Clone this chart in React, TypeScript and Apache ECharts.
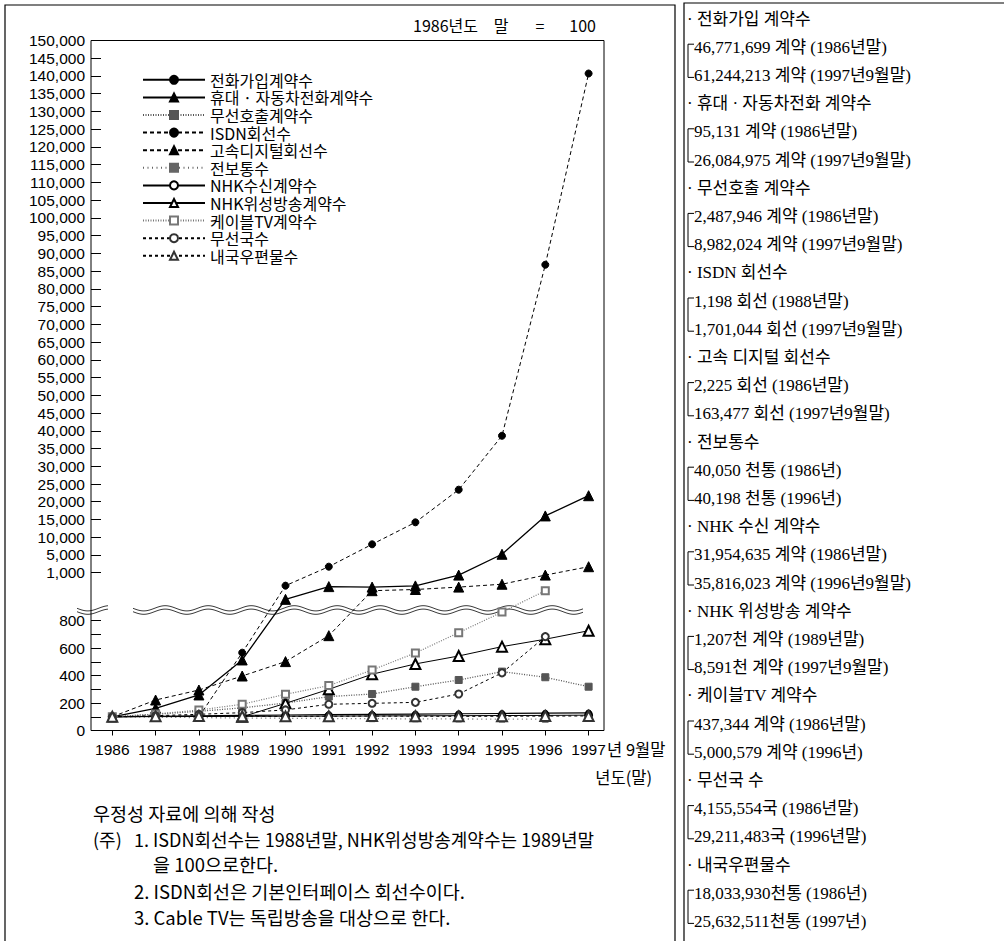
import React, { useEffect, useRef } from "react";
import * as echarts from "echarts";

// ---------------- data ----------------
const years = ["1986", "1987", "1988", "1989", "1990", "1991", "1992", "1993", "1994", "1995", "1996", "1997"];

// upper (compressed) part of the broken axis
const upperTicks = [1000, 5000, 10000, 15000, 20000, 25000, 30000, 35000, 40000, 45000, 50000, 55000, 60000, 65000, 70000, 75000, 80000, 85000, 90000, 95000, 100000, 105000, 110000, 115000, 120000, 125000, 130000, 135000, 140000, 145000, 150000];
// lower part of the broken axis
const lowerTicks = [0, 100, 200, 300, 400, 500, 600, 700, 800];
const lowerLabelTicks = [0, 200, 400, 600, 800];

const phone = [100, 104, 107, 110, 113, 116, 118, 120, 122, 124, 126, 128];
const mobile = [100, 162, 259, 514, 889, 942, 940, 945, 990, 5200, 16000, 21700];
const pager = [100, 118, 140, 165, 200, 247, 266, 319, 368, 429, 388, 319];
const isdn = [null, null, 100, 567, 946, 2360, 8000, 14200, 23400, 38600, 86800, 140700];
const digital = [100, 222, 295, 397, 502, 691, 925, 930, 940, 952, 990, 2350];
const telegram = [100, 97, 94, 91, 89, 87, 86, 85, 84, 83, 82, null];
const nhk = [100, 101, 102, 103, 104, 105, 106, 107, 108, 109, 110, 112];
const nhkBs = [null, null, null, 100, 198, 300, 410, 485, 543, 611, 665, 727];
const cable = [100, 120, 149, 191, 264, 327, 441, 565, 713, 836, 925, null];
const radio = [100, 108, 118, 130, 150, 191, 198, 205, 266, 420, 684, null];
const mail = [100, 103, 105, 104, 103, 104, 105, 104, 103, 104, 105, 106];

const legendNames = [
  "전화가입계약수",
  "휴대 · 자동차전화계약수",
  "무선호출계약수",
  "ISDN회선수",
  "고속디지털회선수",
  "전보통수",
  "NHK수신계약수",
  "NHK위성방송계약수",
  "케이블TV계약수",
  "무선국수",
  "내국우편물수",
];

const panelItems = [
  ["전화가입 계약수", "46,771,699 계약 (1986년말)", "61,244,213 계약 (1997년9월말)"],
  ["휴대 · 자동차전화 계약수", "95,131 계약 (1986년말)", "26,084,975 계약 (1997년9월말)"],
  ["무선호출 계약수", "2,487,946 계약 (1986년말)", "8,982,024 계약 (1997년9월말)"],
  ["ISDN 회선수", "1,198 회선 (1988년말)", "1,701,044 회선 (1997년9월말)"],
  ["고속 디지털 회선수", "2,225 회선 (1986년말)", "163,477 회선 (1997년9월말)"],
  ["전보통수", "40,050 천통 (1986년)", "40,198 천통 (1996년)"],
  ["NHK 수신 계약수", "31,954,635 계약 (1986년말)", "35,816,023 계약 (1996년9월말)"],
  ["NHK 위성방송 계약수", "1,207천 계약 (1989년말)", "8,591천 계약 (1997년9월말)"],
  ["케이블TV 계약수", "437,344 계약 (1986년말)", "5,000,579 계약 (1996년)"],
  ["무선국 수", "4,155,554국 (1986년말)", "29,211,483국 (1996년말)"],
  ["내국우편물수", "18,033,930천통 (1986년)", "25,632,511천통 (1997년)"],
];

// ---------------- layout ----------------
const W = 1004;
const H = 941;
const FRAME_L = 91;
const FRAME_R = 604;
const TOP = 40.5;
const ONE_K_Y = 572.7;
const LOWER_TOP_Y = 620.7;
const ZERO_Y = 730.5;
const STEP = (ONE_K_Y - TOP) / (upperTicks.length - 1);
const LOWER_H = ZERO_Y - LOWER_TOP_Y;
const BREAK_H = LOWER_TOP_Y - ONE_K_Y;
const PLOT_H = ZERO_Y - TOP;
const X_FIRST = 112.3;
const X_LAST = 588.6;
const LOWER_MAX = lowerTicks[lowerTicks.length - 1];

const SANS = "'Liberation Sans', Arial, 'Noto Sans CJK KR', sans-serif";
const KR = "'Noto Sans CJK KR', 'Liberation Sans', sans-serif";
const SERIF = "'Liberation Serif', 'DejaVu Serif', 'Noto Sans CJK KR', serif";

// maps an index value onto the broken axis (pixel units above the zero line)
function toDisplay(v: number | null) {
  if (v == null) return null;
  if (v <= LOWER_MAX) return (v / LOWER_MAX) * LOWER_H;
  if (v <= upperTicks[0]) return LOWER_H + ((v - LOWER_MAX) / (upperTicks[0] - LOWER_MAX)) * BREAK_H;
  for (let i = 0; i < upperTicks.length - 1; i++) {
    if (v <= upperTicks[i + 1]) {
      return LOWER_H + BREAK_H + (i + (v - upperTicks[i]) / (upperTicks[i + 1] - upperTicks[i])) * STEP;
    }
  }
  return PLOT_H;
}

function fmt(n: number) {
  return n.toLocaleString("en-US");
}

type Sty = {
  data: (number | null)[];
  symbol: string;
  size: number;
  color: string;
  lineColor: string;
  line: any;
  width: number;
};

const styles: Sty[] = [
  { data: phone, symbol: "circle", size: 6, color: "#000", lineColor: "#000", line: "solid", width: 1.2 },
  { data: mobile, symbol: "triangle", size: 10, color: "#000", lineColor: "#000", line: "solid", width: 1.3 },
  { data: pager, symbol: "rect", size: 7, color: "#555", lineColor: "#555", line: [1, 1.5], width: 1.3 },
  { data: isdn, symbol: "circle", size: 7, color: "#000", lineColor: "#000", line: [4, 3], width: 1 },
  { data: digital, symbol: "triangle", size: 10, color: "#000", lineColor: "#000", line: [4, 3], width: 1 },
  { data: telegram, symbol: "rect", size: 6, color: "#666", lineColor: "#666", line: [1, 3.5], width: 1.3 },
  { data: nhk, symbol: "emptyCircle", size: 7, color: "#000", lineColor: "#000", line: "solid", width: 1 },
  { data: nhkBs, symbol: "emptyTriangle", size: 10, color: "#000", lineColor: "#000", line: "solid", width: 1 },
  { data: cable, symbol: "emptyRect", size: 7, color: "#777", lineColor: "#777", line: [1, 1.5], width: 1.2 },
  { data: radio, symbol: "emptyCircle", size: 7, color: "#333", lineColor: "#000", line: [3, 3], width: 1 },
  { data: mail, symbol: "emptyTriangle", size: 10, color: "#333", lineColor: "#000", line: [3, 3], width: 1 },
];

function wave(x0: number, x1: number, yc: number) {
  const pts: number[][] = [];
  for (let x = x0; x <= x1; x += 1) {
    pts.push([x, yc + 2.6 * Math.sin(((x - x0) / 43) * Math.PI * 2)]);
  }
  return pts;
}

function buildOption() {
  const graphic: any[] = [];
  const stroke = (points: number[][], lw = 1, color = "#000") => ({
    type: "polyline",
    shape: { points },
    style: { stroke: color, lineWidth: lw, fill: null },
    silent: true,
  });
  const text = (x: number, y: number, t: string, font: string, size: number, align = "left") => ({
    type: "text",
    x,
    y,
    style: { text: t, fontFamily: font, fontSize: size, fill: "#000", align, verticalAlign: "middle" },
    silent: true,
  });

  // left panel border & panel separator
  graphic.push(stroke([[5, H], [5, 5], [675, 5], [675, H]], 1.2));
  // right panel box
  graphic.push(stroke([[684, H], [684, 3], [W, 3]], 1.2));
  // plot frame
  graphic.push({
    type: "rect",
    shape: { x: FRAME_L, y: TOP, width: FRAME_R - FRAME_L, height: ZERO_Y - TOP },
    style: { stroke: "#000", lineWidth: 1, fill: null },
    silent: true,
    z: 10,
  });
  // axis break (double wavy line)
  const breakY = 610;
  [[77, 108], [133, 583]].forEach(([a, b]) => {
    graphic.push(stroke(wave(a, b, breakY - 1.7), 0.9, "#222"));
    graphic.push(stroke(wave(a, b, breakY + 1.7), 0.9, "#222"));
  });

  // title (base note)
  graphic.push(text(478, 25, "1986년도", KR, 16, "right"));
  graphic.push(text(501, 25, "말", KR, 16, "center"));
  graphic.push(text(540, 25, "=", KR, 16, "center"));
  graphic.push(text(596, 25, "100", KR, 16, "right"));
  // axis notes
  graphic.push(text(607, 749, "년 9월말", KR, 16.5, "left"));
  graphic.push(text(652, 777, "년도(말)", KR, 16.5, "right"));
  graphic.push(text(93, 813, "우정성 자료에 의해 작성", KR, 18.5));
  graphic.push(text(93, 839, "(주)", KR, 18));
  graphic.push(text(134, 839, "1. ISDN회선수는 1988년말, NHK위성방송계약수는 1989년말", KR, 18));
  graphic.push(text(153, 864, "을 100으로한다.", KR, 18.5));
  graphic.push(text(134, 891, "2. ISDN회선은 기본인터페이스 회선수이다.", KR, 18.5));
  graphic.push(text(134, 917, "3. Cable TV는 독립방송을 대상으로 한다.", KR, 18.5));

  // right panel
  const rowY0 = 19;
  const rowStep = 28.2;
  const bx = 688;
  panelItems.forEach((it, i) => {
    const y0 = rowY0 + i * 3 * rowStep;
    const y1 = y0 + rowStep;
    const y2 = y0 + 2 * rowStep;
    graphic.push(text(687, y0, "· " + it[0], SERIF, 17));
    graphic.push(text(694, y1, it[1], SERIF, 17));
    graphic.push(text(694, y2, it[2], SERIF, 17));
    graphic.push(stroke([[bx + 6, y1 - 3], [bx, y1 - 3], [bx, y2 + 2], [bx + 6, y2 + 2]], 1));
  });

  const series = styles.map((s, i) => ({
    name: legendNames[i],
    type: "line",
    xAxisIndex: 0,
    yAxisIndex: 0,
    data: s.data.map(toDisplay),
    symbol: s.symbol,
    symbolSize: s.size,
    showAllSymbol: true,
    connectNulls: false,
    lineStyle: { color: s.lineColor, width: s.width, type: s.line },
    itemStyle: { color: s.color, borderColor: s.color, borderWidth: 1 },
    z: 5 + i,
  }));

  return {
    animation: false,
    backgroundColor: "#fff",
    grid: [
      { left: X_FIRST, top: TOP, width: X_LAST - X_FIRST, height: PLOT_H },
      { left: FRAME_L, top: TOP, width: FRAME_R - FRAME_L, height: ONE_K_Y - TOP },
      { left: FRAME_L, top: LOWER_TOP_Y, width: FRAME_R - FRAME_L, height: LOWER_H },
    ],
    xAxis: [
      {
        type: "category",
        gridIndex: 0,
        data: years,
        boundaryGap: false,
        axisLine: { show: false },
        axisTick: { show: true, length: 5, interval: 0, lineStyle: { color: "#000" } },
        axisLabel: { interval: 0, margin: 11, fontFamily: SANS, fontSize: 15.5, color: "#000" },
        splitLine: { show: false },
      },
      { type: "value", gridIndex: 1, show: false, min: 0, max: 1 },
      { type: "value", gridIndex: 2, show: false, min: 0, max: 1 },
    ],
    yAxis: [
      { type: "value", gridIndex: 0, min: 0, max: PLOT_H, show: false },
      {
        type: "value",
        gridIndex: 1,
        min: 0,
        max: upperTicks.length - 1,
        interval: 1,
        axisLine: { show: false },
        axisTick: { show: true, inside: true, length: 10, lineStyle: { color: "#000" } },
        axisLabel: { margin: 6, fontFamily: SANS, fontSize: 15.5, color: "#000", formatter: (v: number) => fmt(upperTicks[Math.round(v)]) },
        splitLine: { show: false },
      },
      {
        type: "value",
        gridIndex: 2,
        min: 0,
        max: LOWER_MAX,
        interval: lowerTicks[1] - lowerTicks[0],
        axisLine: { show: false },
        axisTick: { show: true, inside: true, length: 10, lineStyle: { color: "#000" } },
        axisLabel: {
          margin: 6,
          fontFamily: SANS,
          fontSize: 15.5,
          color: "#000",
          formatter: (v: number) => (lowerLabelTicks.indexOf(v) >= 0 ? String(v) : ""),
        },
        splitLine: { show: false },
      },
    ],
    legend: {
      orient: "vertical",
      left: 137,
      top: 66,
      itemWidth: 62,
      itemHeight: 10,
      itemGap: 0,
      selectedMode: false,
      data: legendNames,
      textStyle: { fontFamily: KR, fontSize: 16, color: "#000", lineHeight: 17.6 },
    },
    series,
    graphic,
  };
}

export default function App() {
  const ref = useRef<HTMLDivElement>(null);
  useEffect(() => {
    const chart = echarts.init(ref.current as HTMLDivElement, null, { renderer: "svg", width: W, height: H });
    chart.setOption(buildOption() as any);
    return () => chart.dispose();
  }, []);
  return (
    <div
      ref={ref}
      style={{ position: "fixed", left: 0, top: 0, width: W, height: H, background: "#fff" }}
    />
  );
}
